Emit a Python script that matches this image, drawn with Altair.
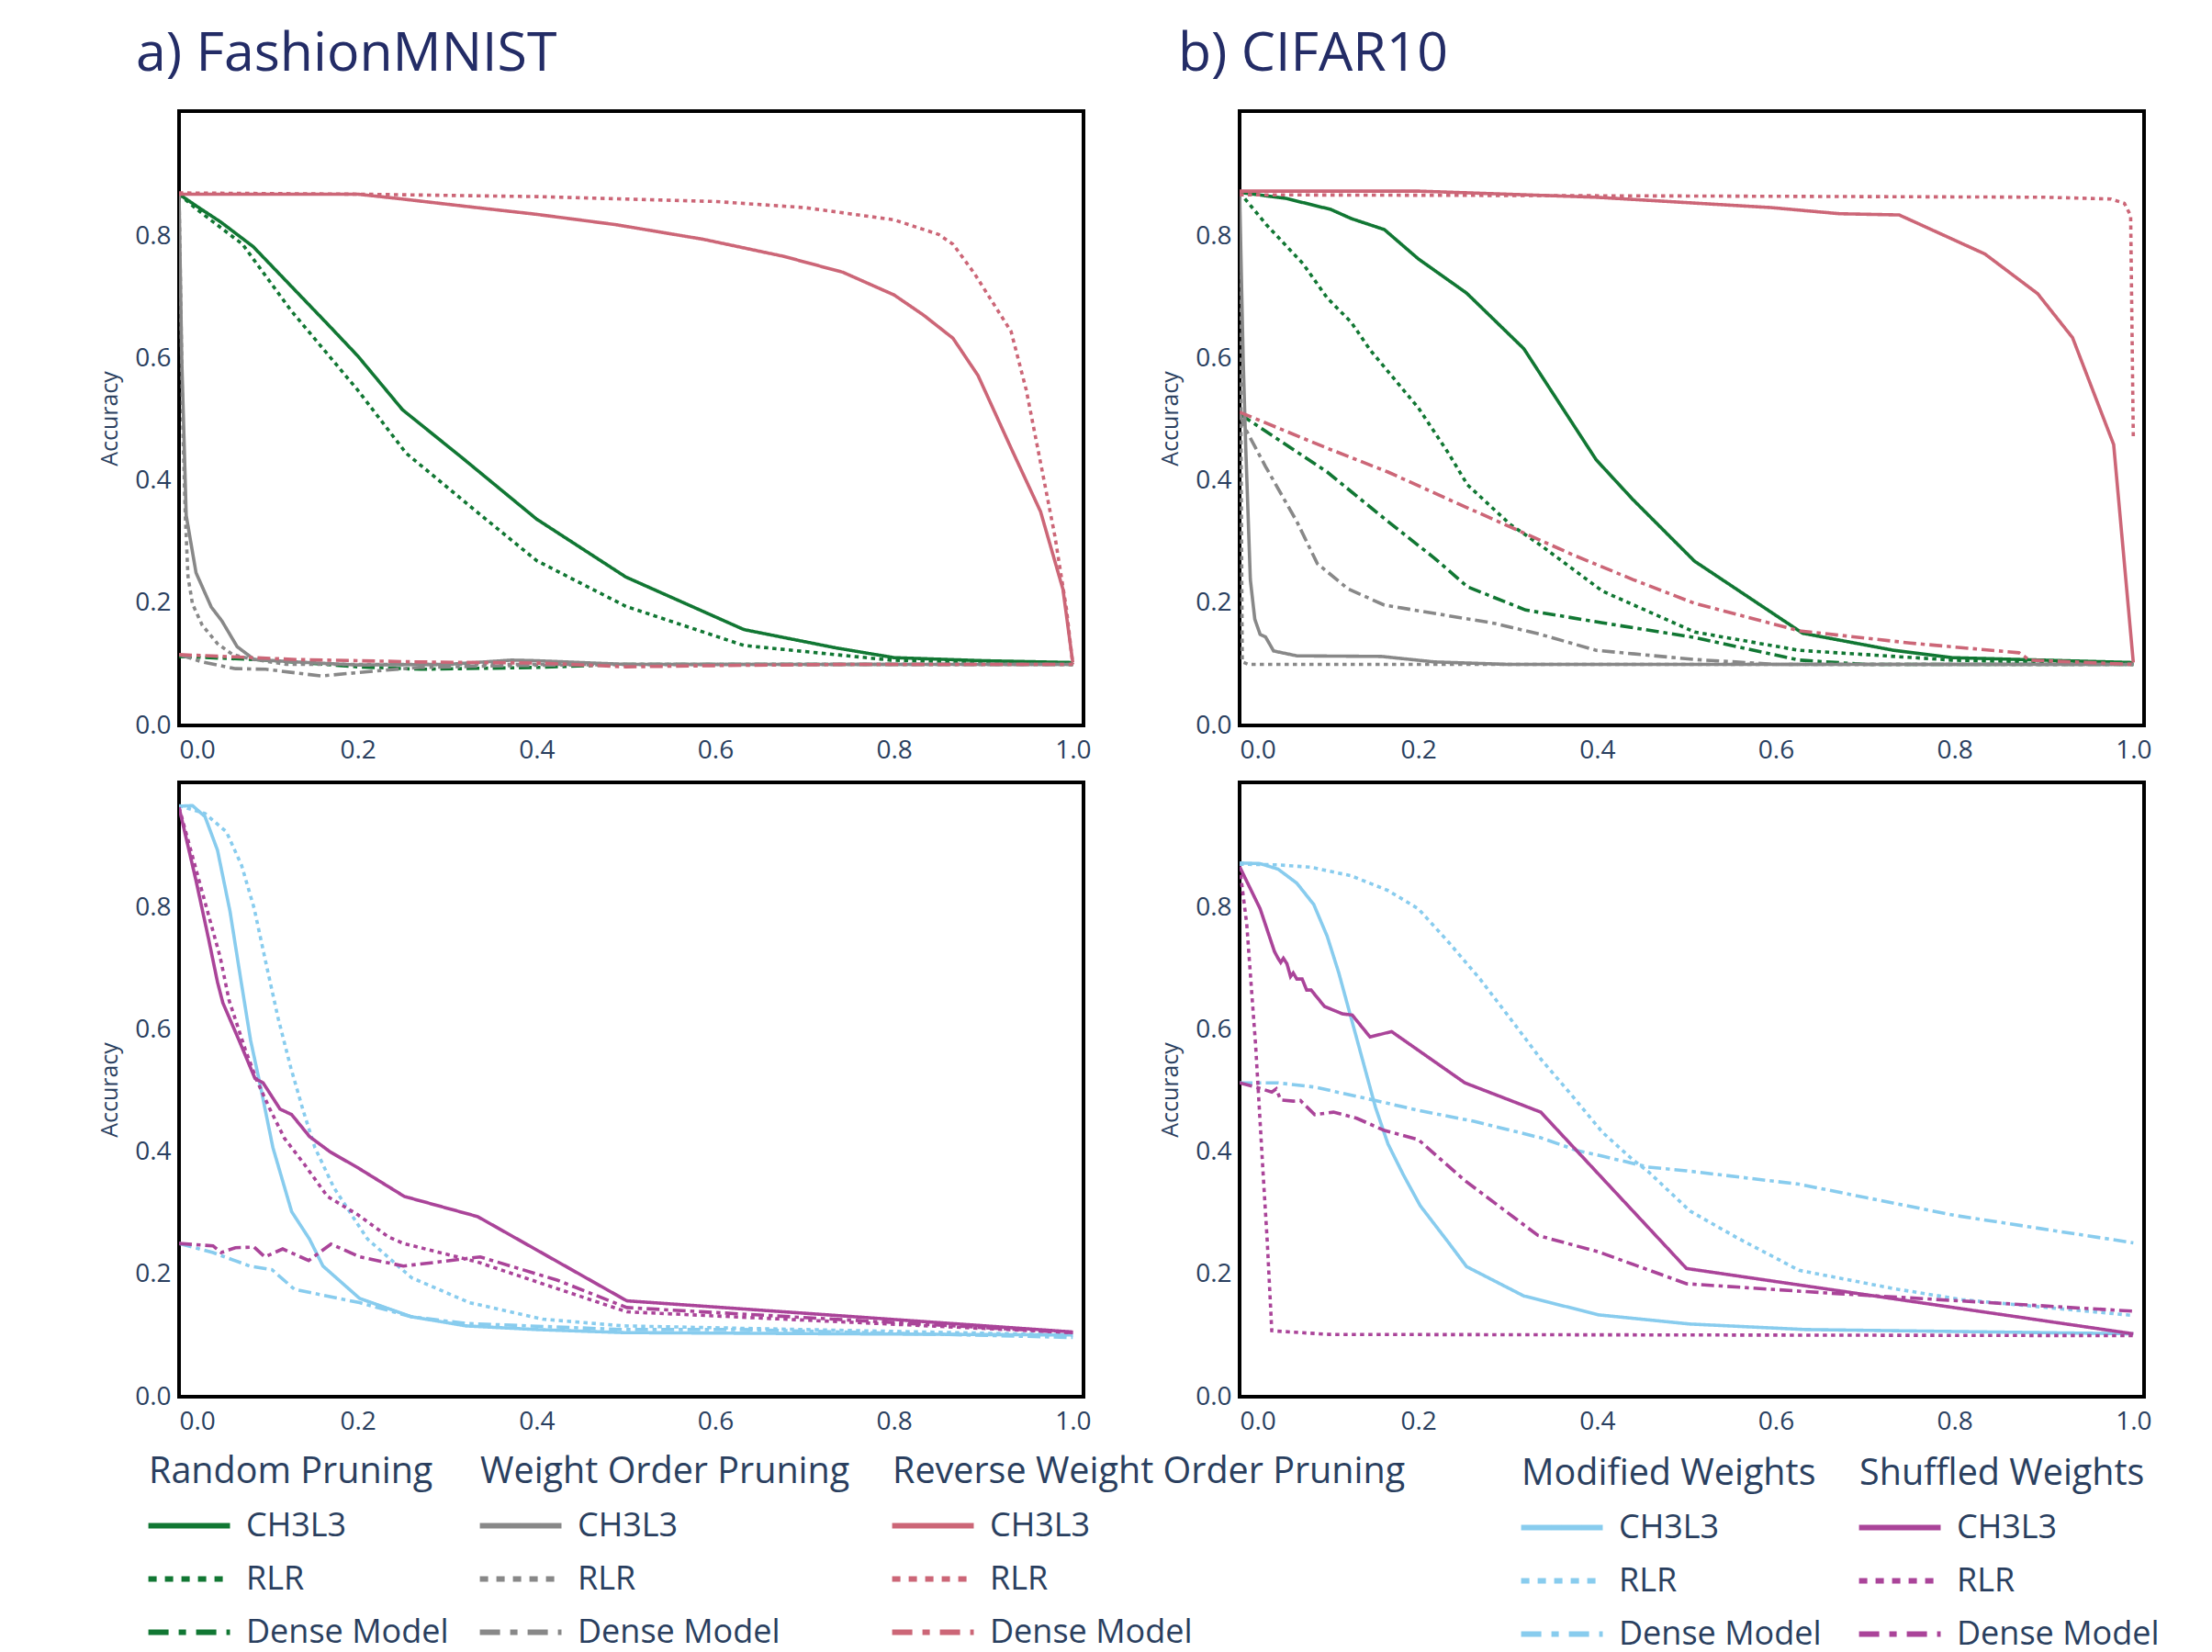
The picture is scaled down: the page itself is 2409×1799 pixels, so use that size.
import altair as alt
import pandas as pd

# ---------------- FashionMNIST : pruning ----------------
fm_rand_ch3l3_x = [0, 0.02, 0.047, 0.083, 0.125, 0.167, 0.2, 0.25, 0.317, 0.4, 0.5, 0.632, 0.735, 0.8, 0.9, 1.0]
fm_rand_ch3l3_y = [0.87, 0.85, 0.824, 0.784, 0.72, 0.656, 0.605, 0.517, 0.438, 0.338, 0.243, 0.157, 0.127, 0.111, 0.106, 0.103]
fm_rand_rlr_x = [0, 0.02, 0.071, 0.125, 0.2, 0.254, 0.333, 0.4, 0.5, 0.632, 0.796, 1.0]
fm_rand_rlr_y = [0.87, 0.845, 0.788, 0.68, 0.549, 0.446, 0.35, 0.27, 0.195, 0.131, 0.107, 0.1]
fm_rand_dense_x = [0, 0.1, 0.2, 0.27, 0.4, 0.5, 0.7, 1.0]
fm_rand_dense_y = [0.113, 0.107, 0.096, 0.092, 0.095, 0.1, 0.1, 0.1]

fm_wo_ch3l3_x = [0, 0.003, 0.008, 0.019, 0.036, 0.048, 0.065, 0.084, 0.131, 0.2, 0.3, 0.372, 0.4, 0.5, 1.0]
fm_wo_ch3l3_y = [0.87, 0.6, 0.344, 0.25, 0.194, 0.171, 0.129, 0.108, 0.104, 0.099, 0.1, 0.107, 0.106, 0.1, 0.1]
fm_wo_rlr_x = [0, 0.004, 0.007, 0.01, 0.015, 0.026, 0.043, 0.06, 0.08, 0.12, 1.0]
fm_wo_rlr_y = [0.87, 0.5, 0.344, 0.244, 0.199, 0.164, 0.134, 0.116, 0.109, 0.1, 0.1]
fm_wo_dense_x = [0, 0.026, 0.063, 0.097, 0.159, 0.218, 0.269, 0.372, 0.5, 1.0]
fm_wo_dense_y = [0.116, 0.104, 0.093, 0.092, 0.081, 0.089, 0.095, 0.098, 0.1, 0.1]

fm_rwo_ch3l3_x = [0, 0.2, 0.25, 0.333, 0.4, 0.489, 0.587, 0.677, 0.743, 0.8, 0.833, 0.866, 0.894, 0.931, 0.964, 0.989, 1.0]
fm_rwo_ch3l3_y = [0.87, 0.87, 0.862, 0.848, 0.837, 0.82, 0.796, 0.768, 0.742, 0.705, 0.672, 0.634, 0.573, 0.454, 0.35, 0.223, 0.103]
fm_rwo_rlr_x = [0, 0.2, 0.4, 0.6, 0.7, 0.8, 0.85, 0.866, 0.89, 0.931, 0.948, 0.964, 0.98, 0.993, 1.0]
fm_rwo_rlr_y = [0.872, 0.87, 0.866, 0.858, 0.848, 0.828, 0.804, 0.788, 0.74, 0.645, 0.549, 0.43, 0.31, 0.19, 0.1]
fm_rwo_dense_x = [0, 0.131, 0.269, 0.406, 0.5, 0.6, 0.75, 1.0]
fm_rwo_dense_y = [0.116, 0.108, 0.104, 0.102, 0.096, 0.098, 0.1, 0.1]

# ---------------- CIFAR10 : pruning ----------------
c10_rand_ch3l3_x = [0, 0.052, 0.102, 0.125, 0.162, 0.2, 0.254, 0.318, 0.399, 0.44, 0.509, 0.63, 0.732, 0.797, 1.0]
c10_rand_ch3l3_y = [0.873, 0.863, 0.845, 0.83, 0.812, 0.764, 0.708, 0.617, 0.435, 0.37, 0.269, 0.151, 0.123, 0.111, 0.103]
c10_rand_rlr_x = [0, 0.03, 0.071, 0.098, 0.125, 0.146, 0.2, 0.234, 0.255, 0.303, 0.337, 0.406, 0.509, 0.626, 0.797, 1.0]
c10_rand_rlr_y = [0.873, 0.82, 0.756, 0.70, 0.66, 0.615, 0.52, 0.445, 0.394, 0.329, 0.295, 0.22, 0.153, 0.123, 0.107, 0.1]
c10_rand_dense_x = [0, 0.036, 0.098, 0.166, 0.218, 0.255, 0.32, 0.406, 0.509, 0.626, 0.7, 1.0]
c10_rand_dense_y = [0.51, 0.475, 0.415, 0.334, 0.274, 0.227, 0.189, 0.168, 0.144, 0.107, 0.1, 0.1]

c10_wo_ch3l3_x = [0, 0.004, 0.007, 0.012, 0.017, 0.023, 0.029, 0.038, 0.064, 0.159, 0.218, 0.3, 1.0]
c10_wo_ch3l3_y = [0.873, 0.6, 0.45, 0.239, 0.174, 0.149, 0.145, 0.122, 0.114, 0.113, 0.104, 0.1, 0.1]
c10_wo_rlr_x = [0, 0.003, 0.01, 1.0]
c10_wo_rlr_y = [0.873, 0.104, 0.1, 0.1]
c10_wo_dense_x = [0, 0.005, 0.029, 0.064, 0.087, 0.121, 0.162, 0.286, 0.337, 0.399, 0.509, 0.6, 1.0]
c10_wo_dense_y = [0.51, 0.49, 0.424, 0.334, 0.265, 0.224, 0.197, 0.167, 0.149, 0.123, 0.108, 0.1, 0.1]

c10_rwo_ch3l3_x = [0, 0.2, 0.398, 0.595, 0.671, 0.738, 0.834, 0.893, 0.932, 0.978, 1.0]
c10_rwo_ch3l3_y = [0.875, 0.875, 0.865, 0.848, 0.838, 0.836, 0.772, 0.707, 0.635, 0.46, 0.103]
c10_rwo_rlr_x = [0, 0.5, 0.9, 0.975, 0.99, 0.997, 1.0]
c10_rwo_rlr_y = [0.869, 0.867, 0.865, 0.862, 0.855, 0.835, 0.47]
c10_rwo_dense_x = [0, 0.098, 0.166, 0.234, 0.303, 0.372, 0.44, 0.509, 0.626, 0.75, 0.872, 0.884, 1.0]
c10_rwo_dense_y = [0.513, 0.454, 0.415, 0.37, 0.325, 0.28, 0.239, 0.2, 0.155, 0.135, 0.119, 0.107, 0.1]

# ---------------- FashionMNIST : modified / shuffled ----------------
fm_mod_ch3l3_x = [0, 0.015, 0.029, 0.043, 0.057, 0.069, 0.08, 0.091, 0.105, 0.126, 0.146, 0.161, 0.202, 0.26, 0.321, 0.4, 0.497, 1.0]
fm_mod_ch3l3_y = [0.967, 0.968, 0.95, 0.895, 0.795, 0.684, 0.584, 0.509, 0.408, 0.303, 0.258, 0.214, 0.161, 0.131, 0.116, 0.11, 0.105, 0.101]
fm_mod_rlr_x = [0, 0.029, 0.053, 0.07, 0.084, 0.098, 0.111, 0.125, 0.139, 0.152, 0.173, 0.193, 0.211, 0.26, 0.325, 0.407, 0.497, 0.7, 1.0]
fm_mod_rlr_y = [0.968, 0.955, 0.925, 0.87, 0.8, 0.705, 0.619, 0.539, 0.468, 0.408, 0.343, 0.298, 0.258, 0.195, 0.154, 0.127, 0.116, 0.11, 0.101]
fm_mod_dense_x = [0, 0.038, 0.079, 0.104, 0.129, 0.202, 0.26, 0.321, 0.497, 0.628, 0.8, 1.0]
fm_mod_dense_y = [0.251, 0.236, 0.214, 0.208, 0.176, 0.154, 0.131, 0.12, 0.11, 0.11, 0.104, 0.097]

fm_shuf_ch3l3_x = [0, 0.019, 0.033, 0.043, 0.049, 0.067, 0.085, 0.094, 0.113, 0.126, 0.146, 0.169, 0.2, 0.252, 0.334, 0.501, 1.0]
fm_shuf_ch3l3_y = [0.965, 0.845, 0.75, 0.679, 0.645, 0.584, 0.521, 0.514, 0.471, 0.462, 0.426, 0.401, 0.375, 0.328, 0.295, 0.157, 0.106]
fm_shuf_rlr_x = [0, 0.015, 0.029, 0.046, 0.056, 0.074, 0.087, 0.101, 0.118, 0.139, 0.166, 0.2, 0.234, 0.251, 0.333, 0.501, 1.0]
fm_shuf_rlr_y = [0.965, 0.885, 0.81, 0.72, 0.649, 0.569, 0.518, 0.473, 0.423, 0.383, 0.328, 0.298, 0.262, 0.251, 0.221, 0.139, 0.105]
fm_shuf_dense_x = [0, 0.038, 0.047, 0.063, 0.084, 0.096, 0.116, 0.145, 0.17, 0.202, 0.251, 0.292, 0.337, 0.423, 0.501, 1.0]
fm_shuf_dense_y = [0.251, 0.247, 0.236, 0.244, 0.245, 0.229, 0.242, 0.223, 0.25, 0.229, 0.214, 0.221, 0.229, 0.191, 0.146, 0.105]

# ---------------- CIFAR10 : modified / shuffled ----------------
c10_mod_ch3l3_x = [0, 0.023, 0.043, 0.064, 0.083, 0.098, 0.111, 0.125, 0.139, 0.152, 0.166, 0.183, 0.202, 0.234, 0.254, 0.318, 0.402, 0.504, 0.633, 1.0]
c10_mod_ch3l3_y = [0.874, 0.873, 0.864, 0.841, 0.806, 0.754, 0.694, 0.619, 0.544, 0.474, 0.414, 0.364, 0.313, 0.252, 0.213, 0.165, 0.134, 0.119, 0.11, 0.103]
c10_mod_rlr_x = [0, 0.043, 0.08, 0.125, 0.166, 0.2, 0.234, 0.269, 0.303, 0.337, 0.372, 0.406, 0.44, 0.457, 0.504, 0.557, 0.626, 0.732, 0.808, 1.0]
c10_mod_rlr_y = [0.872, 0.871, 0.867, 0.853, 0.829, 0.799, 0.744, 0.684, 0.619, 0.553, 0.493, 0.433, 0.388, 0.369, 0.304, 0.26, 0.207, 0.177, 0.159, 0.133]
c10_mod_dense_x = [0, 0.043, 0.084, 0.149, 0.2, 0.262, 0.337, 0.378, 0.406, 0.457, 0.5, 0.626, 0.8, 1.0]
c10_mod_dense_y = [0.514, 0.514, 0.507, 0.486, 0.469, 0.451, 0.424, 0.403, 0.394, 0.376, 0.37, 0.348, 0.297, 0.252]

c10_shuf_ch3l3_x = [0, 0.023, 0.039, 0.043, 0.046, 0.049, 0.053, 0.057, 0.06, 0.064, 0.07, 0.075, 0.08, 0.095, 0.115, 0.126, 0.146, 0.17, 0.252, 0.337, 0.5, 1.0]
c10_shuf_ch3l3_y = [0.868, 0.799, 0.729, 0.718, 0.711, 0.718, 0.709, 0.688, 0.694, 0.684, 0.684, 0.666, 0.666, 0.639, 0.627, 0.625, 0.589, 0.598, 0.514, 0.466, 0.21, 0.103]
c10_shuf_rlr_x = [0, 0.008, 0.013, 0.018, 0.022, 0.026, 0.031, 0.036, 0.1, 1.0]
c10_shuf_rlr_y = [0.868, 0.774, 0.673, 0.574, 0.474, 0.373, 0.253, 0.108, 0.102, 0.1]
c10_shuf_dense_x = [0, 0.018, 0.036, 0.041, 0.046, 0.06, 0.068, 0.084, 0.105, 0.131, 0.162, 0.2, 0.252, 0.334, 0.402, 0.5, 0.656, 1.0]
c10_shuf_dense_y = [0.514, 0.507, 0.499, 0.504, 0.486, 0.484, 0.485, 0.462, 0.466, 0.456, 0.436, 0.421, 0.354, 0.264, 0.237, 0.185, 0.17, 0.14]

# ---------------- categories / ticks ----------------
models = ["CH3L3", "RLR", "Dense Model"]
pruning_groups = ["Random Pruning", "Weight Order Pruning", "Reverse Weight Order Pruning"]
weight_groups = ["Modified Weights", "Shuffled Weights"]
group_colors = ["#117733", "#888888", "#CC6677", "#88CCEE", "#AA4499"]
x_ticks = [0, 0.2, 0.4, 0.6, 0.8, 1.0]
y_ticks = [0, 0.2, 0.4, 0.6, 0.8]

series = [
    ("FashionMNIST", "Random Pruning", "CH3L3", fm_rand_ch3l3_x, fm_rand_ch3l3_y),
    ("FashionMNIST", "Random Pruning", "RLR", fm_rand_rlr_x, fm_rand_rlr_y),
    ("FashionMNIST", "Random Pruning", "Dense Model", fm_rand_dense_x, fm_rand_dense_y),
    ("FashionMNIST", "Weight Order Pruning", "CH3L3", fm_wo_ch3l3_x, fm_wo_ch3l3_y),
    ("FashionMNIST", "Weight Order Pruning", "RLR", fm_wo_rlr_x, fm_wo_rlr_y),
    ("FashionMNIST", "Weight Order Pruning", "Dense Model", fm_wo_dense_x, fm_wo_dense_y),
    ("FashionMNIST", "Reverse Weight Order Pruning", "CH3L3", fm_rwo_ch3l3_x, fm_rwo_ch3l3_y),
    ("FashionMNIST", "Reverse Weight Order Pruning", "RLR", fm_rwo_rlr_x, fm_rwo_rlr_y),
    ("FashionMNIST", "Reverse Weight Order Pruning", "Dense Model", fm_rwo_dense_x, fm_rwo_dense_y),
    ("CIFAR10", "Random Pruning", "CH3L3", c10_rand_ch3l3_x, c10_rand_ch3l3_y),
    ("CIFAR10", "Random Pruning", "RLR", c10_rand_rlr_x, c10_rand_rlr_y),
    ("CIFAR10", "Random Pruning", "Dense Model", c10_rand_dense_x, c10_rand_dense_y),
    ("CIFAR10", "Weight Order Pruning", "CH3L3", c10_wo_ch3l3_x, c10_wo_ch3l3_y),
    ("CIFAR10", "Weight Order Pruning", "RLR", c10_wo_rlr_x, c10_wo_rlr_y),
    ("CIFAR10", "Weight Order Pruning", "Dense Model", c10_wo_dense_x, c10_wo_dense_y),
    ("CIFAR10", "Reverse Weight Order Pruning", "CH3L3", c10_rwo_ch3l3_x, c10_rwo_ch3l3_y),
    ("CIFAR10", "Reverse Weight Order Pruning", "RLR", c10_rwo_rlr_x, c10_rwo_rlr_y),
    ("CIFAR10", "Reverse Weight Order Pruning", "Dense Model", c10_rwo_dense_x, c10_rwo_dense_y),
    ("FashionMNIST", "Modified Weights", "CH3L3", fm_mod_ch3l3_x, fm_mod_ch3l3_y),
    ("FashionMNIST", "Modified Weights", "RLR", fm_mod_rlr_x, fm_mod_rlr_y),
    ("FashionMNIST", "Modified Weights", "Dense Model", fm_mod_dense_x, fm_mod_dense_y),
    ("FashionMNIST", "Shuffled Weights", "CH3L3", fm_shuf_ch3l3_x, fm_shuf_ch3l3_y),
    ("FashionMNIST", "Shuffled Weights", "RLR", fm_shuf_rlr_x, fm_shuf_rlr_y),
    ("FashionMNIST", "Shuffled Weights", "Dense Model", fm_shuf_dense_x, fm_shuf_dense_y),
    ("CIFAR10", "Modified Weights", "CH3L3", c10_mod_ch3l3_x, c10_mod_ch3l3_y),
    ("CIFAR10", "Modified Weights", "RLR", c10_mod_rlr_x, c10_mod_rlr_y),
    ("CIFAR10", "Modified Weights", "Dense Model", c10_mod_dense_x, c10_mod_dense_y),
    ("CIFAR10", "Shuffled Weights", "CH3L3", c10_shuf_ch3l3_x, c10_shuf_ch3l3_y),
    ("CIFAR10", "Shuffled Weights", "RLR", c10_shuf_rlr_x, c10_shuf_rlr_y),
    ("CIFAR10", "Shuffled Weights", "Dense Model", c10_shuf_dense_x, c10_shuf_dense_y),
]

rows = []
for ds, grp, model, xs, ys in series:
    assert len(xs) == len(ys), (ds, grp, model)
    for i, (xv, yv) in enumerate(zip(xs, ys)):
        rows.append({"dataset": ds, "group": grp, "model": model, "x": xv, "y": yv, "i": i})
df = pd.DataFrame(rows)

color_of = dict(zip(pruning_groups + weight_groups, group_colors))
DASHES = [[1, 0], [4.5, 4.5], [14, 5, 4.5, 5]]          # plotted lines
LEGEND_DASHES = [[1, 0], [9, 9], [22, 11, 8, 11]]       # legend keys (drawn thicker)
TEXT = "#2a3f5f"
W, H = 985, 669

# legend placement (relative to the panel's plot area)
legend_pos = {
    "Random Pruning": (-33, 732),
    "Weight Order Pruning": (328, 732),
    "Reverse Weight Order Pruning": (777, 732),
    "Modified Weights": (307, 734),
    "Shuffled Weights": (675, 734),
}


def make_legend(group):
    lx, ly = legend_pos[group]
    return alt.Legend(title=group, orient="none", legendX=lx, legendY=ly)


def line_layer(dataset, group, legend_key=False):
    """Lines of one group; with legend_key=True the layer draws no lines and only
    provides that group's legend (keys drawn with a thicker dash pattern)."""
    leg = make_legend(group) if legend_key else None
    base = alt.Chart()
    if legend_key:
        base = base.transform_filter("false")
    else:
        base = base.transform_filter(
            (alt.datum.dataset == dataset) & (alt.datum.group == group)
        )
    c = color_of[group]
    return base.mark_line(strokeWidth=3.6, clip=True).encode(
        x=alt.X("x:Q", scale=alt.Scale(domain=[0, 1.012], nice=False, zero=False),
                axis=alt.Axis(values=x_ticks, format=".1f", title=None)),
        y=alt.Y("y:Q", scale=alt.Scale(domain=[0, 1.006], nice=False),
                axis=alt.Axis(values=y_ticks, format=".1f", title="Accuracy")),
        color=alt.Color("model:N", scale=alt.Scale(domain=models, range=[c, c, c]),
                        legend=leg),
        strokeDash=alt.StrokeDash(
            "model:N",
            scale=alt.Scale(domain=models, range=LEGEND_DASHES if legend_key else DASHES),
            legend=leg),
        order=alt.Order("i:Q"),
    )


def panel(dataset, groups, key_groups=(), title=None, dx=0):
    layers = [line_layer(dataset, g) for g in groups]
    layers += [line_layer(dataset, g, legend_key=True) for g in key_groups]
    ch = alt.layer(*layers, data=df).resolve_scale(color="independent", strokeDash="independent")
    props = {"width": W, "height": H}
    if title is not None:
        props["title"] = alt.TitleParams(
            text=title, anchor="start", frame="group", fontSize=59, fontWeight="normal",
            color="#232c66", dx=dx, offset=-15, baseline="alphabetic",
        )
    return ch.properties(**props)


tl = panel("FashionMNIST", pruning_groups, title="a) FashionMNIST", dx=-47)
tr = panel("CIFAR10", pruning_groups, title="b) CIFAR10", dx=-67)
bl = panel("FashionMNIST", weight_groups, key_groups=pruning_groups)
br = panel("CIFAR10", weight_groups, key_groups=weight_groups)

chart = alt.concat(
    tl, tr, bl, br, columns=2, spacing={"row": 62, "column": 170}, bounds="flush"
).resolve_scale(
    color="independent", strokeDash="independent"
).resolve_legend(
    color="independent", strokeDash="independent"
).properties(
    padding={"left": 97, "top": 20, "right": 30, "bottom": 6}
).configure(
    font="Open Sans"
).configure_view(
    stroke="black", strokeWidth=4
).configure_axis(
    domain=False, ticks=False, grid=False, labelFontSize=28, labelColor=TEXT,
    labelFont="Open Sans", titleFontSize=25, titleColor=TEXT, titleFontWeight="normal",
    titleFont="Open Sans"
).configure_axisX(
    labelPadding=13
).configure_axisY(
    labelPadding=9, titlePadding=14
).configure_legend(
    padding=0, labelFontSize=36, titleFontSize=39.5, labelColor=TEXT, titleColor=TEXT,
    titleFontWeight="normal", labelFont="Open Sans", titleFont="Open Sans",
    symbolType="M-1.84,0H7.05", symbolSize=400, symbolStrokeWidth=6, labelOffset=70,
    rowPadding=22, titlePadding=20, labelLimit=600, titleLimit=900
)

chart.save("out.html", embed_options={"renderer": "svg", "actions": False})
